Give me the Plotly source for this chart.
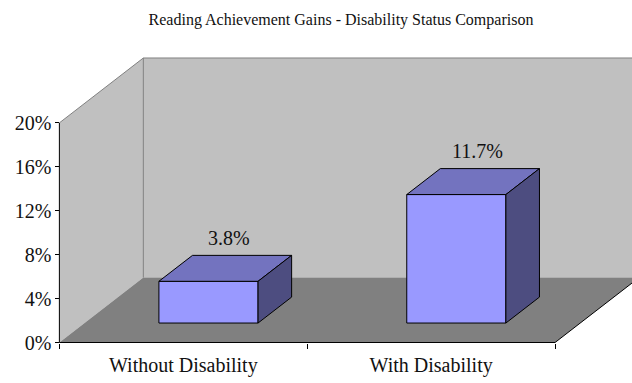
import plotly.graph_objects as go

# Chart data
categories = ["Without Disability", "With Disability"]
gains = [3.8, 11.7]  # percent
tick_values = [0, 4, 8, 12, 16, 20]
tick_labels = ["0%", "4%", "8%", "12%", "16%", "20%"]
title_text = "Reading Achievement Gains - Disability Status Comparison"

# Page / projection setup (pixels)
W, H = 632, 383
X0, Y0 = 59, 343          # screen position of category 0 / value 0 on the front plane
PX_C, PX_V = 248.0, 11.0  # pixels per category, pixels per percent
DEPTH_PX = (84.0, 65.0)   # back-plane offset of the 3D box
DX, DY = DEPTH_PX[0] / PX_C, DEPTH_PX[1] / PX_V
V_MAX = 20

xmin, ymin = -0.05, -0.5
top_px = 50
l_m = X0 + xmin * PX_C
b_m = H - (Y0 - ymin * PX_V)
xmax = (W - X0) / PX_C
ymax = (Y0 - top_px) / PX_V

FONT = "Liberation Serif"
TXT = "#111111"
WALL = "#C0C0C0"
FLOOR = "#808080"
EDGE = "#808080"
FRONT = "#9999FF"
TOP = "#7373BF"
SIDE = "#4D4D80"


def proj(c, v, d):
    return c + d * DX, v + d * DY


def poly(points, fill, line_color, width=1):
    xs, ys = zip(*[proj(*p) for p in points])
    xs = list(xs) + [xs[0]]
    ys = list(ys) + [ys[0]]
    return go.Scatter(x=xs, y=ys, mode="lines", fill="toself", fillcolor=fill,
                      line=dict(color=line_color, width=width),
                      hoverinfo="skip", showlegend=False)


def path(points, color, width=1):
    xs, ys = zip(*[proj(*p) for p in points])
    return go.Scatter(x=list(xs), y=list(ys), mode="lines",
                      line=dict(color=color, width=width),
                      hoverinfo="skip", showlegend=False)


n = len(categories)
fig = go.Figure()

# Walls and floor
fig.add_trace(poly([(0, 0, 0), (0, 0, 1), (0, V_MAX, 1), (0, V_MAX, 0)], WALL, WALL, 0))
fig.add_trace(poly([(0, 0, 1), (n, 0, 1), (n, V_MAX, 1), (0, V_MAX, 1)], WALL, WALL, 0))
fig.add_trace(poly([(0, 0, 0), (n, 0, 0), (n, 0, 1), (0, 0, 1)], FLOOR, FLOOR, 0))
fig.add_trace(path([(0, V_MAX, 0), (0, V_MAX, 1), (n, V_MAX, 1)], EDGE))
fig.add_trace(path([(0, 0, 1), (0, V_MAX, 1)], EDGE))
fig.add_trace(path([(n, 0, 0), (n, 0, 1)], "#000000"))

# Bars
d0, d1 = 0.3, 0.7
for i, v in enumerate(gains):
    c0, c1 = i + 0.3, i + 0.7
    fig.add_trace(poly([(c0, 0, d0), (c1, 0, d0), (c1, v, d0), (c0, v, d0)], FRONT, "#000000"))
    fig.add_trace(poly([(c0, v, d0), (c1, v, d0), (c1, v, d1), (c0, v, d1)], TOP, "#000000"))
    fig.add_trace(poly([(c1, 0, d0), (c1, 0, d1), (c1, v, d1), (c1, v, d0)], SIDE, "#000000"))
    lx, ly = proj(i + 0.5, v, 0.55)
    fig.add_annotation(x=lx, y=ly, text=f"{v:.1f}%", showarrow=False,
                       xanchor="center", yanchor="middle", yshift=27,
                       font=dict(family=FONT, size=20, color=TXT))

# Front axis lines
fig.add_trace(path([(0, 0, 0), (0, V_MAX, 0)], "#000000"))
fig.add_trace(path([(0, 0, 0), (n, 0, 0)], "#000000"))

plot_w = W - l_m
plot_h = H - top_px - b_m
fig.update_layout(
    width=W, height=H,
    margin=dict(l=l_m, r=0, t=top_px, b=b_m, pad=0),
    paper_bgcolor="white", plot_bgcolor="white",
    showlegend=False,
    hovermode=False,
    title=dict(text=title_text, x=341 / W, y=1 - 19 / H, xref="container",
               yref="container", xanchor="center", yanchor="middle",
               font=dict(family=FONT, size=16, color=TXT)),
    xaxis=dict(range=[xmin, xmax], showgrid=False, zeroline=False, showline=False,
               tickvals=[i + 0.5 for i in range(n)], ticktext=categories,
               ticks="", ticklabelstandoff=8,
               tickfont=dict(family=FONT, size=20, color=TXT),
               minor=dict(tickvals=list(range(n + 1)), ticks="outside", ticklen=5,
                          tickcolor="#000000", tickwidth=1),
               anchor="free", position=((H - b_m) - Y0) / plot_h),
    yaxis=dict(range=[ymin, ymax], showgrid=False, zeroline=False, showline=False,
               tickvals=tick_values, ticktext=tick_labels,
               ticks="outside", ticklen=4, tickcolor="#000000",
               tickfont=dict(family=FONT, size=20, color=TXT),
               anchor="free", position=(X0 - l_m) / plot_w),
)

fig.write_html("out.html")
